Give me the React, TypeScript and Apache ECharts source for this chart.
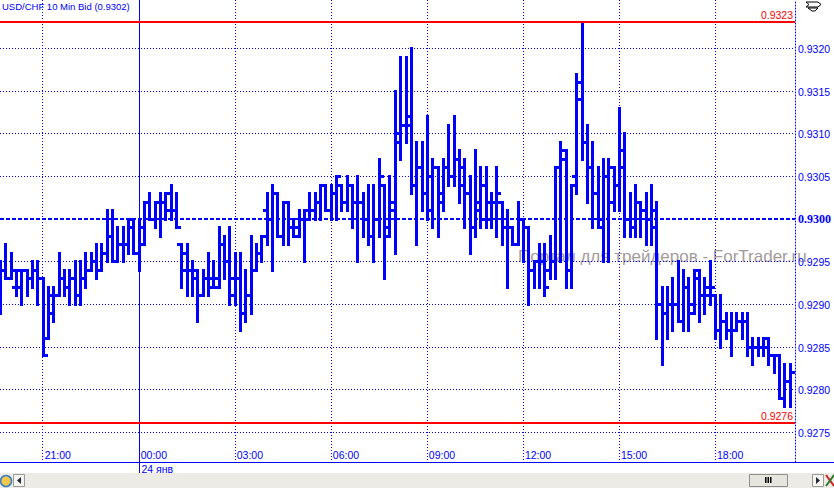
import React, { useEffect, useRef } from "react";
import * as echarts from "echarts";

// ---------- data ----------
const TITLE = "USD/CHF 10 Min Bid (0.9302)";
const WATERMARK = "Портал для трейдеров - ForTrader.ru";
const DAY_LABEL = "24 янв";
const DAY_START = "00:00";
const FIRST_SLOT = "19:40";
const SLOT_MINUTES = 10;
const SLOT_COUNT = 150;

const categories: string[] = (() => {
  const [h0, m0] = FIRST_SLOT.split(":").map(Number);
  const out: string[] = [];
  for (let k = 0; k < SLOT_COUNT; k++) {
    const m = (h0 * 60 + m0 + k * SLOT_MINUTES) % 1440;
    out.push(String(Math.floor(m / 60)).padStart(2, "0") + ":" + String(m % 60).padStart(2, "0"));
  }
  return out;
})();

const opens = [
  0.9292, 0.9294, 0.9293, 0.9292, 0.9292, 0.9294, 0.9293, 0.9294, 0.9293, 0.9286,
  0.9289, 0.9291, 0.9293, 0.9292, 0.9293, 0.9291, 0.9293, 0.9294, 0.9295, 0.9294,
  0.9296, 0.9298, 0.9295, 0.9297, 0.9297, 0.93, 0.9296, 0.9299, 0.9302, 0.93,
  0.9302, 0.9302, 0.9303, 0.9301, 0.9297, 0.9294, 0.9294, 0.9293, 0.9291, 0.9293,
  0.9292, 0.9292, 0.9297, 0.9295, 0.9291, 0.9293, 0.9289, 0.9291, 0.9294, 0.9296,
  0.9301, 0.93, 0.9303, 0.9298, 0.9302, 0.9299, 0.9299, 0.93, 0.9301, 0.9301,
  0.9302, 0.9304, 0.9301, 0.9303, 0.9304, 0.9302, 0.9304, 0.9302, 0.9302, 0.93,
  0.9298, 0.93, 0.9304, 0.9299, 0.9302, 0.931, 0.9311, 0.9311, 0.9304, 0.9306,
  0.9303, 0.9301, 0.9306, 0.9303, 0.9306, 0.9305, 0.9307, 0.9304, 0.9303, 0.9299,
  0.9301, 0.9304, 0.9302, 0.9302, 0.9302, 0.9299, 0.9299, 0.9297, 0.93, 0.9299,
  0.9294, 0.9295, 0.9295, 0.9294, 0.9295, 0.9306, 0.9308, 0.9294, 0.9305, 0.9316,
  0.9309, 0.9306, 0.9303, 0.93, 0.9305, 0.9302, 0.9304, 0.9308, 0.93, 0.9299,
  0.9302, 0.9301, 0.93, 0.9301, 0.929, 0.9289, 0.929, 0.929, 0.9288, 0.9292,
  0.929, 0.9294, 0.9291, 0.9292, 0.9291, 0.9287, 0.9288, 0.9287, 0.9287, 0.9288,
  0.9288, 0.9285, 0.9285, 0.9285, 0.9285, 0.9284, 0.9284, 0.9279, 0.9281,
];
const highs = [
  0.9295, 0.9297, 0.9296, 0.9294, 0.9294, 0.9294, 0.9295, 0.9295, 0.9293, 0.9292,
  0.9292, 0.9296, 0.9294, 0.9294, 0.9295, 0.9295, 0.9296, 0.9296, 0.9297, 0.9297,
  0.9301, 0.9301, 0.9299, 0.9299, 0.93, 0.93, 0.93, 0.9302, 0.9303, 0.9302,
  0.9303, 0.9303, 0.9304, 0.9303, 0.9297, 0.9297, 0.9295, 0.9294, 0.9294, 0.9296,
  0.9295, 0.9299, 0.9298, 0.9299, 0.9296, 0.9296, 0.9294, 0.9298, 0.9297, 0.9298,
  0.9303, 0.9304, 0.9303, 0.9302, 0.9302, 0.93, 0.9301, 0.9301, 0.9303, 0.9303,
  0.9304, 0.9304, 0.9304, 0.9305, 0.9304, 0.9305, 0.9304, 0.9305, 0.9303, 0.9304,
  0.9304, 0.9307, 0.9304, 0.9305, 0.9315, 0.9319, 0.9319, 0.932, 0.9309, 0.9309,
  0.9312, 0.9307, 0.9306, 0.9307, 0.9311, 0.9312, 0.9308, 0.9307, 0.9305, 0.9308,
  0.9306, 0.9306, 0.9303, 0.9306, 0.9302, 0.9301, 0.9299, 0.9302, 0.93, 0.9299,
  0.9295, 0.9297, 0.9297, 0.9298, 0.9306, 0.9309, 0.9308, 0.9304, 0.9317, 0.9323,
  0.9311, 0.9309, 0.9306, 0.9307, 0.9307, 0.9306, 0.9313, 0.931, 0.9303, 0.9304,
  0.9302, 0.9303, 0.9304, 0.9302, 0.9292, 0.9292, 0.9293, 0.9295, 0.9294, 0.9293,
  0.9294, 0.9294, 0.9293, 0.9295, 0.9291, 0.9291, 0.9289, 0.9289, 0.9289, 0.9289,
  0.9289, 0.9286, 0.9286, 0.9286, 0.9286, 0.9284, 0.9284, 0.9283, 0.9283,
];
const lows = [
  0.9289, 0.9293, 0.9293, 0.9291, 0.929, 0.9291, 0.9292, 0.929, 0.9284, 0.9286,
  0.9288, 0.9291, 0.9291, 0.929, 0.929, 0.929, 0.9292, 0.9294, 0.9293, 0.9294,
  0.9295, 0.9295, 0.9295, 0.9295, 0.9296, 0.9296, 0.9294, 0.9297, 0.93, 0.9299,
  0.9298, 0.93, 0.93, 0.9299, 0.9292, 0.9291, 0.9291, 0.9288, 0.9291, 0.9291,
  0.9292, 0.9292, 0.9293, 0.929, 0.929, 0.9287, 0.9288, 0.9289, 0.9294, 0.9295,
  0.9297, 0.9294, 0.9298, 0.9297, 0.9297, 0.9298, 0.9298, 0.9295, 0.93, 0.93,
  0.93, 0.9301, 0.93, 0.93, 0.9301, 0.9301, 0.9299, 0.9295, 0.9298, 0.9297,
  0.9295, 0.9298, 0.9293, 0.9298, 0.9296, 0.9307, 0.9309, 0.9303, 0.9297, 0.9301,
  0.93, 0.9299, 0.9298, 0.9301, 0.9304, 0.9304, 0.9302, 0.9299, 0.9296, 0.9298,
  0.9299, 0.9299, 0.9299, 0.9298, 0.9297, 0.9292, 0.9297, 0.9297, 0.9295, 0.929,
  0.9292, 0.9292, 0.9291, 0.9293, 0.9293, 0.9295, 0.9292, 0.9292, 0.9303, 0.9307,
  0.9302, 0.9299, 0.9299, 0.9295, 0.9295, 0.9301, 0.9301, 0.9298, 0.9298, 0.9298,
  0.9298, 0.9297, 0.9297, 0.9286, 0.9283, 0.9286, 0.9287, 0.9288, 0.9287, 0.9287,
  0.9289, 0.9288, 0.9289, 0.929, 0.9286, 0.9285, 0.9286, 0.9284, 0.9287, 0.9286,
  0.9284, 0.9283, 0.9284, 0.9284, 0.9283, 0.9282, 0.9279, 0.9278, 0.9278,
];
const closes = [
  0.9294, 0.9293, 0.9294, 0.9294, 0.9294, 0.9293, 0.9294, 0.9293, 0.9284, 0.9291,
  0.9291, 0.9293, 0.9292, 0.9293, 0.9291, 0.9293, 0.9294, 0.9295, 0.9294, 0.9296,
  0.9298, 0.9295, 0.9297, 0.9297, 0.9299, 0.9296, 0.9297, 0.9302, 0.93, 0.9302,
  0.9302, 0.9301, 0.9301, 0.9299, 0.9296, 0.9294, 0.9294, 0.9291, 0.9293, 0.9293,
  0.9293, 0.9297, 0.9295, 0.9293, 0.9293, 0.9289, 0.9291, 0.9294, 0.9296, 0.9298,
  0.93, 0.9303, 0.9298, 0.9302, 0.9299, 0.9298, 0.93, 0.93, 0.9301, 0.9302,
  0.9304, 0.9301, 0.9303, 0.9305, 0.9302, 0.9304, 0.9302, 0.9302, 0.93, 0.9298,
  0.93, 0.9305, 0.9298, 0.9301, 0.9309, 0.9311, 0.9312, 0.9304, 0.9306, 0.9303,
  0.9305, 0.9306, 0.9302, 0.9306, 0.9305, 0.9307, 0.9306, 0.9303, 0.9299, 0.9302,
  0.93, 0.93, 0.9302, 0.9303, 0.9299, 0.9299, 0.9297, 0.93, 0.9299, 0.9294,
  0.9295, 0.9295, 0.9292, 0.9295, 0.9306, 0.9307, 0.9294, 0.9304, 0.9314, 0.9309,
  0.9306, 0.9303, 0.9299, 0.9305, 0.9306, 0.9304, 0.9306, 0.93, 0.9299, 0.9302,
  0.9301, 0.93, 0.9299, 0.929, 0.9289, 0.929, 0.929, 0.9288, 0.9292, 0.9289,
  0.9293, 0.9291, 0.9291, 0.9292, 0.9287, 0.9288, 0.9287, 0.9287, 0.9288, 0.9288,
  0.9285, 0.9285, 0.9285, 0.9286, 0.9284, 0.9284, 0.9279, 0.9281, 0.9282,
];

const priceTicks = [0.9275, 0.928, 0.9285, 0.929, 0.9295, 0.93, 0.9305, 0.931, 0.9315, 0.932];
const centerLevel = 0.93;
const extremeLevels = [0.9323, 0.9276];
const Y_MIN = 0.927148;
const Y_MAX = 0.932563;

// ---------- styles ----------
const BLUE = "#0000ff";
const RED = "#ff0000";
const SANS = '"Liberation Sans", Arial, sans-serif';
const SERIF = '"Liberation Serif", "Times New Roman", serif';

const isTimeTick = (value: string) => {
  const [h, m] = value.split(":").map(Number);
  return m === 0 && h % 3 === 0;
};

export default function App() {
  const ref = useRef<HTMLDivElement>(null);

  useEffect(() => {
    if (!ref.current) return;
    const chart = echarts.init(ref.current, null, { renderer: "svg", width: 834, height: 488 });

    const ohlcData = opens.map((o, i) => [i, o, highs[i], lows[i], closes[i]]);
    const dayIndex = categories.indexOf(DAY_START);

    const option: any = {
      animation: false,
      backgroundColor: "#ffffff",
      grid: { left: 0, right: 39, top: 0, bottom: 26, containLabel: false },
      xAxis: {
        type: "category",
        data: categories,
        boundaryGap: false,
        axisLine: { show: false },
        axisTick: { show: false },
        axisLabel: {
          inside: true,
          interval: (_i: number, v: string) => isTimeTick(v),
          align: "left",
          margin: 2,
          padding: [0, 0, 0, 2],
          color: BLUE,
          fontSize: 10.5,
          fontFamily: SANS,
        },
        splitLine: {
          show: true,
          interval: (_i: number, v: string) => isTimeTick(v) && v !== DAY_START,
          lineStyle: { color: BLUE, width: 1, type: [1, 2] },
        },
      },
      yAxis: {
        type: "value",
        position: "right",
        min: Y_MIN,
        max: Y_MAX,
        axisLine: { show: true, lineStyle: { color: BLUE, width: 1, type: [1, 2] } },
        axisTick: { show: false },
        axisLabel: { show: false },
        splitLine: { show: false },
      },
      graphic: [
        {
          type: "text",
          left: 518,
          top: 248,
          z: 0,
          silent: true,
          style: { text: WATERMARK, fill: "#a39b9b", font: `17px ${SANS}` },
        },
        {
          type: "text",
          left: 2,
          top: 1,
          z: 10,
          style: { text: TITLE, fill: BLUE, font: `9.5px ${SANS}` },
        },
        {
          type: "line",
          z: 10,
          shape: { x1: 0, y1: 462.5, x2: 834, y2: 462.5 },
          style: { stroke: BLUE, lineWidth: 1 },
        },
        // bottom scroll bar
        { type: "rect", z: 10, shape: { x: 0, y: 473, width: 834, height: 15 }, style: { fill: "#ecebe5" } },
        { type: "circle", z: 11, shape: { cx: 6, cy: 481, r: 5.5 }, style: { fill: "#f2c84b", stroke: "#3b7dc4", lineWidth: 1.5 } },
        { type: "rect", z: 11, shape: { x: 13.5, y: 474.5, width: 11, height: 12 }, style: { fill: "#f6f5f0", stroke: "#9a9a9a", lineWidth: 1 } },
        { type: "polygon", z: 12, shape: { points: [[21, 477], [21, 484], [17, 480.5]] }, style: { fill: "#1e2a38" } },
        { type: "rect", z: 11, shape: { x: 749.5, y: 474.5, width: 38, height: 12 }, style: { fill: "#e6e5de", stroke: "#8e8e8e", lineWidth: 1 } },
        { type: "rect", z: 12, shape: { x: 765, y: 477, width: 1.5, height: 6 }, style: { fill: "#000" } },
        { type: "rect", z: 12, shape: { x: 767.5, y: 477, width: 1.5, height: 6 }, style: { fill: "#000" } },
        { type: "rect", z: 12, shape: { x: 770, y: 477, width: 1.5, height: 6 }, style: { fill: "#000" } },
        { type: "rect", z: 11, shape: { x: 812.5, y: 474.5, width: 11, height: 12 }, style: { fill: "#f6f5f0", stroke: "#9a9a9a", lineWidth: 1 } },
        { type: "polygon", z: 12, shape: { points: [[816, 477], [816, 484], [820, 480.5]] }, style: { fill: "#1e2a38" } },
        { type: "line", z: 12, shape: { x1: 826, y1: 475, x2: 834, y2: 486 }, style: { stroke: "#d42020", lineWidth: 2 } },
        { type: "line", z: 12, shape: { x1: 834, y1: 475, x2: 826, y2: 486 }, style: { stroke: "#2a7a2a", lineWidth: 2 } },
        // top-right icon
        { type: "polyline", z: 12, shape: { points: [[806, 2], [818, 2], [821, 4.5], [818, 7], [806, 7], [809, 4.5], [806, 2]] }, style: { fill: "#fff", stroke: "#000", lineWidth: 1 } },
        { type: "polyline", z: 12, shape: { points: [[808, 8], [818, 8], [815, 11], [812, 11], [808, 8]] }, style: { fill: "#fff", stroke: "#000", lineWidth: 1 } },
      ],
      series: [
        {
          type: "custom",
          name: "priceGrid",
          z: 1,
          silent: true,
          data: priceTicks.map((v) => [0, v]),
          renderItem: (params: any, api: any) => {
            const v = api.value(1);
            const p = api.coord([0, v]);
            const cs = params.coordSys;
            const center = Math.abs(v - centerLevel) < 1e-9;
            const y = center ? Math.round(p[1]) : Math.round(p[1]) + 0.5;
            return {
              type: "group",
              children: [
                {
                  type: "line",
                  shape: { x1: cs.x, y1: y, x2: cs.x + cs.width, y2: y },
                  style: { stroke: BLUE, lineWidth: center ? 2 : 1, lineDash: center ? [4, 2] : [1, 2] },
                },
                {
                  type: "text",
                  x: cs.x + cs.width + 3,
                  y: y,
                  style: {
                    text: v.toFixed(4),
                    fill: BLUE,
                    font: center ? `bold 12px ${SERIF}` : `10.5px ${SANS}`,
                    align: "left",
                    verticalAlign: "middle",
                  },
                },
              ],
            };
          },
        },
        {
          type: "custom",
          name: "daySeparator",
          z: 2,
          silent: true,
          data: [[dayIndex, centerLevel]],
          renderItem: (params: any, api: any) => {
            const p = api.coord([api.value(0), api.value(1)]);
            const cs = params.coordSys;
            const x = Math.round(p[0]) + 0.5;
            return {
              type: "group",
              children: [
                { type: "line", shape: { x1: x, y1: cs.y, x2: x, y2: cs.y + cs.height + 11 }, style: { stroke: BLUE, lineWidth: 1 } },
                {
                  type: "text",
                  x: x + 2,
                  y: cs.y + cs.height + 7,
                  style: { text: DAY_LABEL, fill: BLUE, font: `10.5px ${SANS}`, align: "left", verticalAlign: "middle" },
                },
              ],
            };
          },
        },
        {
          type: "custom",
          name: "ohlc",
          z: 3,
          data: ohlcData,
          encode: { x: 0, y: [1, 2, 3, 4] },
          renderItem: (_params: any, api: any) => {
            const i = api.value(0);
            const o = api.coord([i, api.value(1)]);
            const h = api.coord([i, api.value(2)]);
            const l = api.coord([i, api.value(3)]);
            const c = api.coord([i, api.value(4)]);
            const cx = Math.round(h[0]) + 0.5;
            const oy = Math.round(o[1]) + 0.5;
            const cy = Math.round(c[1]) + 0.5;
            const st = { stroke: BLUE, lineWidth: 3 };
            return {
              type: "group",
              children: [
                { type: "line", shape: { x1: cx, y1: Math.round(h[1]) - 1, x2: cx, y2: Math.round(l[1]) + 2 }, style: st },
                { type: "line", shape: { x1: cx - 4.5, y1: oy, x2: cx, y2: oy }, style: st },
                { type: "line", shape: { x1: cx, y1: cy, x2: cx + 4.5, y2: cy }, style: st },
              ],
            };
          },
        },
        {
          type: "custom",
          name: "extremes",
          z: 4,
          silent: true,
          data: extremeLevels.map((v) => [0, v]),
          renderItem: (params: any, api: any) => {
            const v = api.value(1);
            const p = api.coord([0, v]);
            const cs = params.coordSys;
            const y = Math.round(p[1]);
            return {
              type: "group",
              children: [
                { type: "line", shape: { x1: cs.x, y1: y, x2: cs.x + cs.width, y2: y }, style: { stroke: RED, lineWidth: 2 } },
                {
                  type: "text",
                  x: cs.x + cs.width - 2,
                  y: y - 2,
                  style: { text: v.toFixed(4), fill: RED, font: `10.5px ${SANS}`, align: "right", verticalAlign: "bottom" },
                },
              ],
            };
          },
        },
      ],
    };

    chart.setOption(option);
    return () => chart.dispose();
  }, []);

  return (
    <div
      ref={ref}
      style={{ position: "fixed", left: 0, top: 0, width: 834, height: 488, background: "#fff" }}
    />
  );
}
